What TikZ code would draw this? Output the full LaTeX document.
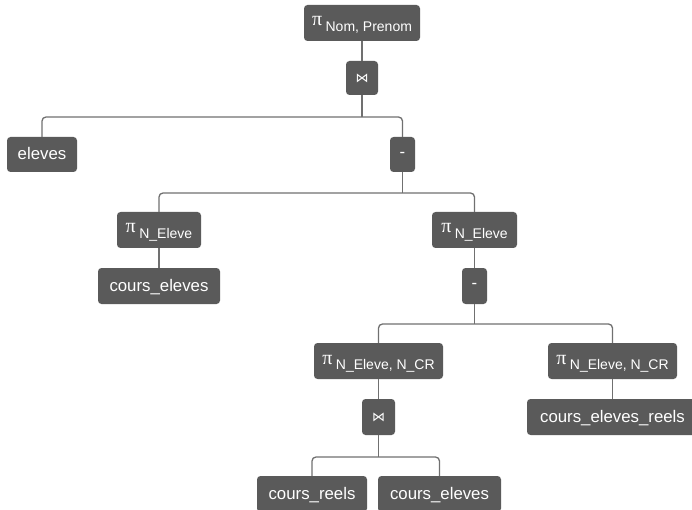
\documentclass[tikz,border=0pt]{standalone}
\usepackage{fontspec}
\setmainfont{Liberation Sans}
\newfontfamily\pifont{Liberation Serif}
\newfontfamily\opfont{DejaVu Sans}
\definecolor{boxgray}{HTML}{5A5A5A}
\definecolor{linegray}{HTML}{707070}
% projection label: pi followed by a lowered attribute list
\newcommand{\projlabel}[1]{{\pifont\fontsize{20}{20}\selectfont π}\hspace{3.5pt}\raisebox{-5.5pt}{\fontsize{14}{14}\selectfont #1}}

\begin{document}
\begin{tikzpicture}[x=1pt,y=-1pt,
  op/.style={fill=boxgray, text=white, rounded corners=3.5pt, inner sep=0pt,
             minimum height=36pt, font=\fontsize{16.8}{16.8}\selectfont},
  rel/.style={op, text height=11.5pt, text depth=0.5pt},
  projbox/.style={op, text height=8pt, text depth=2pt},
  joinbox/.style={op, minimum height=34pt, minimum width=32pt,
                  font=\opfont\fontsize{13}{13}\selectfont},
  diffbox/.style={op, minimum width=25pt},
  conn/.style={draw=linegray, line width=1.3pt, rounded corners=4pt}]
\useasboundingbox (0,0) rectangle (692,510);
\clip (0,0) rectangle (692,510);

% operator tree
\node[projbox, minimum width=116pt] (proj1) at (362,23) {\projlabel{Nom, Prenom}};
\node[joinbox] (join1) at (362,78) {⋈};
\node[rel, minimum width=70pt, minimum height=35pt] (eleves) at (42,154.5) {eleves};
\node[diffbox, minimum height=35pt] (minus1) at (402.5,154.5) {-};
\node[projbox, minimum width=84pt] (projA) at (159,230) {\projlabel{N\_Eleve}};
\node[rel, minimum width=122pt] (coursA) at (159,286) {cours\_eleves};
\node[projbox, minimum width=85pt] (projB) at (474.5,230) {\projlabel{N\_Eleve}};
\node[diffbox] (minus2) at (474.5,286) {-};
\node[projbox, minimum width=129pt] (projC) at (378.5,361) {\projlabel{N\_Eleve, N\_CR}};
\node[projbox, minimum width=129pt] (projD) at (612.5,361) {\projlabel{N\_Eleve, N\_CR}};
\node[joinbox, minimum height=36pt, minimum width=33pt] (join2) at (378.5,417) {⋈};
\node[rel, minimum width=171pt] (reelsA) at (612.5,417) {cours\_eleves\_reels};
\node[rel, minimum width=110pt] (reelsB) at (312,494) {cours\_reels};
\node[rel, minimum width=123pt] (coursB) at (439.5,494) {cours\_eleves};

% junction points of the branching connectors
\coordinate (b1) at (362,117);
\coordinate (b2) at (402.5,193);
\coordinate (b3) at (474.5,324);
\coordinate (b4) at (378.5,457);

% single-child links
\draw[conn] (proj1.south) -- (join1.north);
\draw[conn] (projA.south) -- (coursA.north);
\draw[conn] (projB.south) -- (minus2.north);
\draw[conn] (projC.south) -- (join2.north);
\draw[conn] (projD.south) -- (reelsA.north);

% two-child links
\draw[conn] (join1.south) -- (b1);
\draw[conn] (eleves.north) |- (b1) -| (minus1.north);
\draw[conn] (minus1.south) -- (b2);
\draw[conn] (projA.north) |- (b2) -| (projB.north);
\draw[conn] (minus2.south) -- (b3);
\draw[conn] (projC.north) |- (b3) -| (projD.north);
\draw[conn] (join2.south) -- (b4);
\draw[conn] (reelsB.north) |- (b4) -| (coursB.north);
\end{tikzpicture}
\end{document}
